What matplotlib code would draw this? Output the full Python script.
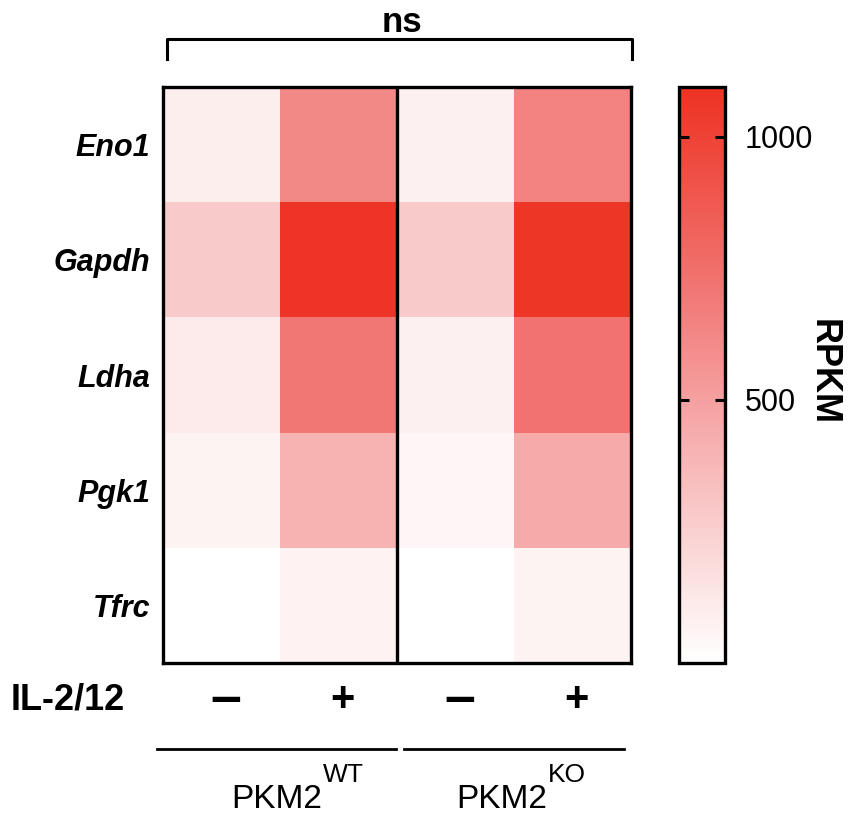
import matplotlib
matplotlib.use("Agg")
import matplotlib.pyplot as plt
import numpy as np
from matplotlib.colors import LinearSegmentedColormap

# Expression (RPKM) of glycolytic genes
genes = ["Eno1", "Gapdh", "Ldha", "Pgk1", "Tfrc"]
group_sup = ["WT", "KO"]
treatment = ["\u2013", "+", "\u2013", "+"]
wt_unstim = [90, 280, 110, 65, 0]
wt_stim = [620, 1080, 710, 405, 70]
ko_unstim = [80, 280, 80, 50, 0]
ko_stim = [645, 1070, 735, 447, 65]
cbar_ticks = [500, 1000]

values = np.array([wt_unstim, wt_stim, ko_unstim, ko_stim]).T

W, H = 848, 814
fig = plt.figure(figsize=(W / 100, H / 100), dpi=100)
plt.rcParams["font.family"] = ["Liberation Sans", "DejaVu Sans"]

def box(x0, y0, x1, y1):
    return [x0 / W, 1 - y1 / H, (x1 - x0) / W, (y1 - y0) / H]

def fx(x):
    return x / W

def fy(y):
    return 1 - y / H

vmin, vmax = 0, 1095
cmap = LinearSegmentedColormap.from_list(
    "rpkm",
    [(0.0, "#FFFFFF"), (0.457, "#F5A0A0"), (0.65, "#F17673"), (1.0, "#EE3223")],
)

ax = fig.add_axes(box(163, 87, 631, 663))
mesh = ax.pcolormesh(values, cmap=cmap, vmin=vmin, vmax=vmax)
ax.set_xlim(0, 4)
ax.set_ylim(len(genes), 0)
ax.set_yticks(np.arange(len(genes)) + 0.5)
ax.set_yticklabels(genes, fontsize=22, fontweight="bold", fontstyle="italic")
ax.tick_params(axis="y", length=0, pad=9)
ax.set_xticks([])
for s in ax.spines.values():
    s.set_linewidth(2.4)
ax.axvline(2, color="black", lw=2.4)

# Colorbar
cax = fig.add_axes(box(679, 87, 725, 663))
cb = fig.colorbar(mesh, cax=cax, ticks=cbar_ticks)
cb.outline.set_linewidth(2.4)
cax.tick_params(direction="in", left=True, right=True, length=7, width=2.2,
                labelsize=22, pad=14)
fig.text(fx(823), fy(372), "RPKM", rotation=270, ha="center", va="center",
         fontsize=26, fontweight="bold")

# Significance bracket
fig.add_artist(plt.Line2D([fx(167), fx(167), fx(632), fx(632)],
                          [fy(59), fy(39), fy(39), fy(59)],
                          color="black", lw=2.2))
fig.text(fx(402), fy(23), "ns", ha="center", va="center", fontsize=25,
         fontweight="bold")

# Treatment row
fig.text(fx(11), fy(700), "IL-2/12", ha="left", va="center", fontsize=26,
         fontweight="bold")
for i, sym in enumerate(treatment):
    xpix = 163 + (i + 0.5) * (631 - 163) / 4 + 4
    size = 40 if sym != "+" else 30
    fig.text(fx(xpix), fy(700), sym, ha="center", va="center", fontsize=size,
             fontweight="bold")

# Genotype group lines and labels
for (x0, x1), sup, xc in zip([(157, 396), (404, 624)], group_sup, [322, 547]):
    fig.add_artist(plt.Line2D([fx(x0), fx(x1)], [fy(749), fy(749)],
                              color="black", lw=2.0))
    fig.text(fx(xc), fy(799), "PKM2", ha="right", va="center", fontsize=24)
    fig.text(fx(xc + 1), fy(775), sup, ha="left", va="center", fontsize=19)

fig.savefig("out.png", dpi=100)
